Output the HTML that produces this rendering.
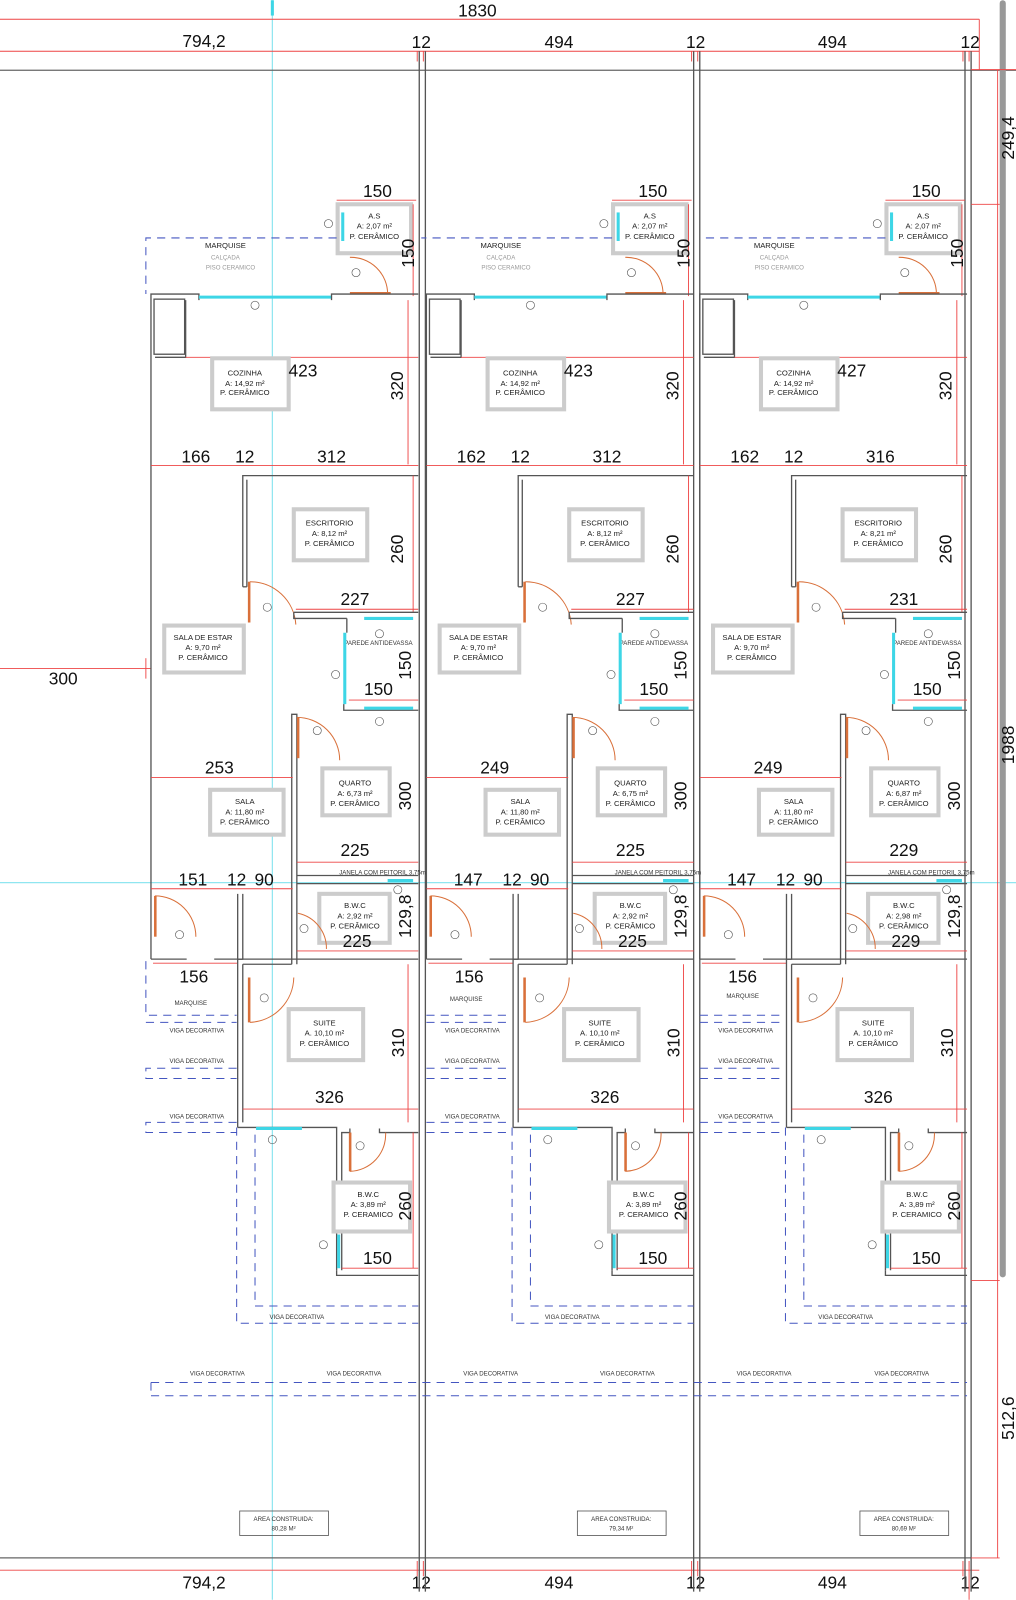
<!DOCTYPE html>
<html><head><meta charset="utf-8"><style>
html,body{margin:0;padding:0;background:#fff;}
svg{display:block;}
text{font-family:"Liberation Sans",sans-serif;}
.d{font-size:17px;fill:#111;}
.s{font-size:7.5px;fill:#222;text-anchor:middle;}
.t{font-size:6px;fill:#333;text-anchor:middle;}
.g{font-size:6px;fill:#999;text-anchor:middle;}
.w{stroke:#555;stroke-width:1.3;fill:none;}
.r{stroke:#e44;stroke-width:0.9;fill:none;}
.b{stroke:#2d8fe0;stroke-width:0;}
.lb{stroke:#ccc;stroke-width:4;fill:#fff;}
.dash{stroke:#4456c0;stroke-width:1;stroke-dasharray:8,6;fill:none;}
.cy{stroke:#3dd6e6;stroke-width:3;}
.dr{stroke:#d9703a;stroke-width:1;fill:none;}
.dp{fill:#d9703a;}
.c{fill:none;stroke:#555;stroke-width:0.6;}
</style></head><body>
<svg width="1016" height="1600" viewBox="0 0 996 1568" xmlns="http://www.w3.org/2000/svg">
<rect width="996" height="1568" fill="#fff"/>
<!-- global guide lines -->
<line x1="267" y1="0" x2="267" y2="1568" stroke="#8fe6f0" stroke-width="1.2"/>
<line x1="267" y1="0" x2="267" y2="15" stroke="#3dd6e6" stroke-width="3"/>
<line x1="0" y1="865" x2="996" y2="865" stroke="#8fe6f0" stroke-width="1.2"/>
<!-- top dims -->
<line class="r" x1="0" y1="18.6" x2="960" y2="18.6"/>
<line class="r" x1="960" y1="18.6" x2="960" y2="68"/>
<line class="r" x1="0" y1="50" x2="960" y2="50"/>
<line class="r" x1="0" y1="1539" x2="960" y2="1539"/>
<text class="d" x="468" y="16" text-anchor="middle">1830</text>
<text class="d" x="200" y="46" text-anchor="middle">794,2</text>
<text class="d" x="413" y="47" text-anchor="middle">12</text>
<text class="d" x="548" y="47" text-anchor="middle">494</text>
<text class="d" x="682" y="47" text-anchor="middle">12</text>
<text class="d" x="816" y="47" text-anchor="middle">494</text>
<text class="d" x="951" y="47" text-anchor="middle">12</text>
<text class="d" x="200" y="1557" text-anchor="middle">794,2</text>
<text class="d" x="413" y="1557" text-anchor="middle">12</text>
<text class="d" x="548" y="1557" text-anchor="middle">494</text>
<text class="d" x="682" y="1557" text-anchor="middle">12</text>
<text class="d" x="816" y="1557" text-anchor="middle">494</text>
<text class="d" x="951" y="1557" text-anchor="middle">12</text>
<!-- outer lines -->
<line x1="0" y1="68.6" x2="996" y2="68.6" stroke="#666" stroke-width="1.2"/>
<line x1="0" y1="1527" x2="952" y2="1527" stroke="#666" stroke-width="1.2"/>
<g stroke="#555" stroke-width="1.3">
<line x1="411" y1="50" x2="411" y2="1560"/><line x1="417" y1="50" x2="417" y2="1560"/>
<line x1="680" y1="50" x2="680" y2="1560"/><line x1="686" y1="50" x2="686" y2="1560"/>
<line x1="946" y1="50" x2="946" y2="1560"/><line x1="952" y1="50" x2="952" y2="1560"/>
</g>
<g class="r">
<line x1="409" y1="50" x2="409" y2="60"/><line x1="415" y1="50" x2="415" y2="60"/>
<line x1="678" y1="50" x2="678" y2="60"/><line x1="684" y1="50" x2="684" y2="60"/>
<line x1="944" y1="50" x2="944" y2="60"/><line x1="950" y1="50" x2="950" y2="60"/>
<line x1="409" y1="1530" x2="409" y2="1545"/><line x1="415" y1="1530" x2="415" y2="1545"/>
<line x1="678" y1="1530" x2="678" y2="1545"/><line x1="684" y1="1530" x2="684" y2="1545"/>
<line x1="944" y1="1530" x2="944" y2="1545"/><line x1="950" y1="1530" x2="950" y2="1568"/>
</g>
<!-- right dims -->
<rect x="980" y="0" width="6" height="1252" rx="3" fill="#999"/>
<line class="r" x1="978" y1="68" x2="978" y2="1527"/>
<line class="r" x1="952" y1="68" x2="996" y2="68"/>
<line class="r" x1="952" y1="200" x2="980" y2="200"/>
<line class="r" x1="952" y1="1255" x2="980" y2="1255"/>
<line class="r" x1="952" y1="1527" x2="980" y2="1527"/>
<text class="d" transform="translate(994,135) rotate(-90)" text-anchor="middle">249,4</text>
<text class="d" transform="translate(994,730) rotate(-90)" text-anchor="middle">1988</text>
<text class="d" transform="translate(994,1390) rotate(-90)" text-anchor="middle">512,6</text>
<!-- left dim -->
<line class="r" x1="0" y1="655" x2="148" y2="655"/>
<line class="r" x1="143" y1="645" x2="143" y2="665"/>
<text class="d" x="62" y="671" text-anchor="middle">300</text>
<!-- bottom long viga -->
<line class="dash" x1="148" y1="1355" x2="948" y2="1355"/>
<line class="dash" x1="148" y1="1368" x2="948" y2="1368"/>
<line class="dash" x1="148" y1="1355" x2="148" y2="1368"/>
<text class="t" x="213" y="1348">VIGA DECORATIVA</text>
<text class="t" x="347" y="1348">VIGA DECORATIVA</text>
<text class="t" x="481" y="1348">VIGA DECORATIVA</text>
<text class="t" x="615" y="1348">VIGA DECORATIVA</text>
<text class="t" x="749" y="1348">VIGA DECORATIVA</text>
<text class="t" x="884" y="1348">VIGA DECORATIVA</text>

<!-- ===== UNIT 1 ===== -->
<g transform="translate(0,0)">
<line class="r" x1="330" y1="196" x2="408" y2="196"/><text class="d" x="370" y="193" text-anchor="middle">150</text>
<rect class="lb" x="331" y="200" width="72" height="48"/>
<line class="cy" x1="336" y1="208" x2="336" y2="236"/>
<text class="s" x="367" y="214">A.S</text><text class="s" x="367" y="224">A: 2,07 m²</text><text class="s" x="367" y="234">P. CERÂMICO</text>
<circle class="c" cx="322" cy="219" r="4"/>
<line class="r" x1="405" y1="200" x2="405" y2="290"/>
<text class="d" transform="translate(406,248) rotate(-90)" text-anchor="middle">150</text>
<polyline class="dash" points="330,233 143,233 143,288"/>
<text class="s" x="221" y="243">MARQUISE</text><text class="g" x="221" y="254">CALÇADA</text><text class="g" x="226" y="264">PISO CERAMICO</text>
<path class="dr" d="M343,288 L383,288 M343,252 A36,36 0 0 1 380,288"/>
<rect class="dp" x="343" y="286" width="40" height="2.5"/>
<circle class="c" cx="349" cy="267" r="4"/>
<polyline class="w" points="148,940 148,288 195,288 195,294"/>
<line class="cy" x1="195" y1="291" x2="325" y2="291"/>
<polyline class="w" points="325,294 325,288 410,288"/>
<circle class="c" cx="250" cy="299" r="4"/>
<rect class="w" x="151" y="293" width="30" height="54"/>
<polyline class="w" points="152,350 182,350 182,294"/>
<line class="r" x1="182" y1="350" x2="410" y2="350"/>
<line class="r" x1="400" y1="294" x2="400" y2="455"/>
<rect class="lb" x="208" y="351" width="75" height="50"/>
<text class="s" x="240" y="368">COZINHA</text><text class="s" x="240" y="378">A: 14,92 m²</text><text class="s" x="240" y="387">P. CERÂMICO</text>
<text class="d" x="297" y="369" text-anchor="middle">423</text>
<text class="d" transform="translate(395,378) rotate(-90)" text-anchor="middle">320</text>
<line class="r" x1="148" y1="456" x2="410" y2="456"/>
<text class="d" x="192" y="453" text-anchor="middle">166</text><text class="d" x="240" y="453" text-anchor="middle">12</text><text class="d" x="325" y="453" text-anchor="middle">312</text>
<polyline class="w" points="238,575 238,466 410,466"/>
<line class="w" x1="242" y1="470" x2="242" y2="575"/>
<line class="w" x1="238" y1="575" x2="242" y2="575"/>
<line class="r" x1="405" y1="466" x2="405" y2="600"/>
<rect class="lb" x="288" y="499" width="72" height="50"/>
<text class="s" x="323" y="515">ESCRITORIO</text><text class="s" x="323" y="525">A: 8,12 m²</text><text class="s" x="323" y="535">P. CERÂMICO</text>
<text class="d" transform="translate(395,538) rotate(-90)" text-anchor="middle">260</text>
<path class="dr" d="M245,570 A45,45 0 0 1 290,612"/><rect class="dp" x="243" y="570" width="2.5" height="40"/>
<circle class="c" cx="262" cy="595" r="4"/>
<text class="d" x="348" y="593" text-anchor="middle">227</text>
<line class="r" x1="290" y1="597" x2="410" y2="597"/>
<polyline class="w" points="288,600 410,600"/><polyline class="w" points="288,600 288,606 340,606"/>
<line class="cy" x1="357" y1="606" x2="405" y2="606"/>
<polyline class="w" points="340,606 340,620"/>
<circle class="c" cx="372" cy="621" r="4"/>
<text class="t" x="371" y="632">PAREDE ANTIDEVASSA</text>
<line class="cy" x1="338" y1="620" x2="338" y2="690"/>
<circle class="c" cx="329" cy="661" r="4"/>
<text class="d" transform="translate(403,652) rotate(-90)" text-anchor="middle">150</text>
<text class="d" x="371" y="681" text-anchor="middle">150</text>
<line class="r" x1="342" y1="686" x2="410" y2="686"/>
<polyline class="w" points="337,690 337,696 410,696"/>
<line class="cy" x1="357" y1="694" x2="405" y2="694"/>
<circle class="c" cx="372" cy="707" r="4"/>
<rect class="lb" x="161" y="613" width="78" height="46"/>
<text class="s" x="199" y="627">SALA DE ESTAR</text><text class="s" x="199" y="637">A: 9,70 m²</text><text class="s" x="199" y="647">P. CERÂMICO</text>
<polyline class="w" points="286,945 286,700 291,700 291,945"/>
<path class="dr" d="M291,703 A42,42 0 0 1 333,745"/><rect class="dp" x="291" y="703" width="2.5" height="40"/>
<circle class="c" cx="311" cy="716" r="4"/>
<text class="d" x="215" y="758" text-anchor="middle">253</text>
<line class="r" x1="148" y1="762" x2="287" y2="762"/>
<rect class="lb" x="316" y="753" width="66" height="46"/>
<text class="s" x="348" y="770">QUARTO</text><text class="s" x="348" y="780">A: 6,73 m²</text><text class="s" x="348" y="790">P. CERÂMICO</text>
<text class="d" transform="translate(403,780) rotate(-90)" text-anchor="middle">300</text>
<rect class="lb" x="206" y="774" width="72" height="44"/>
<text class="s" x="240" y="788">SALA</text><text class="s" x="240" y="798">A: 11,80 m²</text><text class="s" x="240" y="808">P. CERÂMICO</text>
<text class="d" x="348" y="839" text-anchor="middle">225</text>
<line class="r" x1="291" y1="845" x2="410" y2="845"/>
<line class="w" x1="291" y1="858" x2="410" y2="858"/>
<text class="t" x="375" y="857">JANELA COM PEITORIL 3,75m</text>
<line class="cy" x1="380" y1="863" x2="405" y2="863"/>
<polyline class="w" points="291,866 410,866"/>
<circle class="c" cx="390" cy="872" r="4"/>
<text class="d" x="189" y="868" text-anchor="middle">151</text><text class="d" x="232" y="868" text-anchor="middle">12</text><text class="d" x="259" y="868" text-anchor="middle">90</text>
<line class="r" x1="148" y1="871" x2="287" y2="871"/>
<polyline class="w" points="233,876 233,940 238,940 238,876"/>
<path class="dr" d="M152,878 A40,40 0 0 1 192,918"/><rect class="dp" x="151" y="878" width="2.5" height="40"/>
<circle class="c" cx="176" cy="916" r="4"/>
<rect class="lb" x="313" y="876" width="69" height="48"/>
<text class="s" x="348" y="890">B.W.C</text><text class="s" x="348" y="900">A: 2,92 m²</text><text class="s" x="348" y="910">P. CERÂMICO</text>
<path class="dr" d="M292,895 A35,35 0 0 1 320,930"/><circle class="c" cx="298" cy="910" r="4"/>
<text class="d" transform="translate(403,898) rotate(-90)" text-anchor="middle">129,8</text>
<text class="d" x="350" y="928" text-anchor="middle">225</text>
<line class="r" x1="291" y1="932" x2="410" y2="932"/>
<polyline class="w" points="148,940 183,940"/><polyline class="w" points="210,940 238,940"/>
<line class="r" x1="150" y1="944" x2="233" y2="944"/>
<text class="d" x="190" y="963" text-anchor="middle">156</text>
<polyline class="w" points="233,1105 233,940 410,940"/><line class="w" x1="238" y1="945" x2="238" y2="1100"/>
<line class="w" x1="238" y1="945" x2="286" y2="945"/>
<path class="dr" d="M245,1002 A45,45 0 0 0 288,958"/><rect class="dp" x="243" y="958" width="2.5" height="44"/>
<circle class="c" cx="259" cy="978" r="4"/>
<line class="r" x1="400" y1="945" x2="400" y2="1100"/>
<rect class="lb" x="283" y="989" width="73" height="50"/>
<text class="s" x="318" y="1005">SUITE</text><text class="s" x="318" y="1015">A. 10,10 m²</text><text class="s" x="318" y="1025">P. CERÂMICO</text>
<text class="d" transform="translate(396,1022) rotate(-90)" text-anchor="middle">310</text>
<text class="d" x="323" y="1081" text-anchor="middle">326</text>
<line class="r" x1="238" y1="1087" x2="410" y2="1087"/>
<polyline class="w" points="233,1105 330,1105 330,1245"/>
<line class="cy" x1="251" y1="1106" x2="296" y2="1106"/>
<circle class="c" cx="267" cy="1117" r="4"/>
<polyline class="w" points="335,1245 335,1110 343,1110 343,1106"/>
<polyline class="w" points="372,1106 372,1110 410,1110"/>
<path class="dr" d="M343,1148 A36,36 0 0 0 378,1110"/><rect class="dp" x="342" y="1110" width="2.5" height="38"/>
<circle class="c" cx="353" cy="1123" r="4"/>
<rect class="lb" x="327" y="1159" width="75" height="48"/>
<text class="s" x="361" y="1173">B.W.C</text><text class="s" x="361" y="1183">A: 3,89 m²</text><text class="s" x="361" y="1193">P. CERAMICO</text>
<text class="d" transform="translate(403,1182) rotate(-90)" text-anchor="middle">260</text>
<line class="cy" x1="332" y1="1210" x2="332" y2="1243"/>
<circle class="c" cx="317" cy="1220" r="4"/>
<text class="d" x="370" y="1239" text-anchor="middle">150</text>
<line class="r" x1="335" y1="1243" x2="410" y2="1243"/>
<line class="r" x1="405" y1="1110" x2="405" y2="1243"/>
<polyline class="w" points="330,1245 330,1250 410,1250"/>
<polyline class="dash" points="232,1105 232,1297 410,1297"/>
<polyline class="dash" points="250,1112 250,1280 410,1280"/>
<text class="t" x="291" y="1293">VIGA DECORATIVA</text>
<polyline class="dash" points="143,942 143,995 232,995"/>
<text class="t" x="187" y="985">MARQUISE</text>
<line class="dash" x1="143" y1="1002" x2="232" y2="1002"/>
<text class="t" x="193" y="1012">VIGA DECORATIVA</text>
<text class="t" x="193" y="1042">VIGA DECORATIVA</text>
<polyline class="dash" points="232,1047 143,1047 143,1057 232,1057"/>
<text class="t" x="193" y="1096">VIGA DECORATIVA</text>
<polyline class="dash" points="232,1100 143,1100 143,1110 232,1110"/>
<rect x="235" y="1481" width="87" height="24" fill="none" stroke="#555" stroke-width="0.8"/>
<text class="t" x="278" y="1491">AREA CONSTRUIDA:</text><text class="t" x="278" y="1500">80,28 M²</text>
</g>

<!-- ===== UNIT 2 ===== -->
<g transform="translate(270,0)">
<line class="r" x1="330" y1="196" x2="408" y2="196"/><text class="d" x="370" y="193" text-anchor="middle">150</text>
<rect class="lb" x="331" y="200" width="72" height="48"/>
<line class="cy" x1="336" y1="208" x2="336" y2="236"/>
<text class="s" x="367" y="214">A.S</text><text class="s" x="367" y="224">A: 2,07 m²</text><text class="s" x="367" y="234">P. CERÂMICO</text>
<circle class="c" cx="322" cy="219" r="4"/>
<line class="r" x1="405" y1="200" x2="405" y2="290"/>
<text class="d" transform="translate(406,248) rotate(-90)" text-anchor="middle">150</text>
<polyline class="dash" points="330,233 143,233"/>
<text class="s" x="221" y="243">MARQUISE</text><text class="g" x="221" y="254">CALÇADA</text><text class="g" x="226" y="264">PISO CERAMICO</text>
<path class="dr" d="M343,288 L383,288 M343,252 A36,36 0 0 1 380,288"/>
<rect class="dp" x="343" y="286" width="40" height="2.5"/>
<circle class="c" cx="349" cy="267" r="4"/>
<polyline class="w" points="148,940 148,288 195,288 195,294"/>
<line class="cy" x1="195" y1="291" x2="325" y2="291"/>
<polyline class="w" points="325,294 325,288 410,288"/>
<circle class="c" cx="250" cy="299" r="4"/>
<rect class="w" x="151" y="293" width="30" height="54"/>
<polyline class="w" points="152,350 182,350 182,294"/>
<line class="r" x1="182" y1="350" x2="410" y2="350"/>
<line class="r" x1="400" y1="294" x2="400" y2="455"/>
<rect class="lb" x="208" y="351" width="75" height="50"/>
<text class="s" x="240" y="368">COZINHA</text><text class="s" x="240" y="378">A: 14,92 m²</text><text class="s" x="240" y="387">P. CERÂMICO</text>
<text class="d" x="297" y="369" text-anchor="middle">423</text>
<text class="d" transform="translate(395,378) rotate(-90)" text-anchor="middle">320</text>
<line class="r" x1="148" y1="456" x2="410" y2="456"/>
<text class="d" x="192" y="453" text-anchor="middle">162</text><text class="d" x="240" y="453" text-anchor="middle">12</text><text class="d" x="325" y="453" text-anchor="middle">312</text>
<polyline class="w" points="238,575 238,466 410,466"/>
<line class="w" x1="242" y1="470" x2="242" y2="575"/>
<line class="w" x1="238" y1="575" x2="242" y2="575"/>
<line class="r" x1="405" y1="466" x2="405" y2="600"/>
<rect class="lb" x="288" y="499" width="72" height="50"/>
<text class="s" x="323" y="515">ESCRITORIO</text><text class="s" x="323" y="525">A: 8,12 m²</text><text class="s" x="323" y="535">P. CERÂMICO</text>
<text class="d" transform="translate(395,538) rotate(-90)" text-anchor="middle">260</text>
<path class="dr" d="M245,570 A45,45 0 0 1 290,612"/><rect class="dp" x="243" y="570" width="2.5" height="40"/>
<circle class="c" cx="262" cy="595" r="4"/>
<text class="d" x="348" y="593" text-anchor="middle">227</text>
<line class="r" x1="290" y1="597" x2="410" y2="597"/>
<polyline class="w" points="288,600 410,600"/><polyline class="w" points="288,600 288,606 340,606"/>
<line class="cy" x1="357" y1="606" x2="405" y2="606"/>
<polyline class="w" points="340,606 340,620"/>
<circle class="c" cx="372" cy="621" r="4"/>
<text class="t" x="371" y="632">PAREDE ANTIDEVASSA</text>
<line class="cy" x1="338" y1="620" x2="338" y2="690"/>
<circle class="c" cx="329" cy="661" r="4"/>
<text class="d" transform="translate(403,652) rotate(-90)" text-anchor="middle">150</text>
<text class="d" x="371" y="681" text-anchor="middle">150</text>
<line class="r" x1="342" y1="686" x2="410" y2="686"/>
<polyline class="w" points="337,690 337,696 410,696"/>
<line class="cy" x1="357" y1="694" x2="405" y2="694"/>
<circle class="c" cx="372" cy="707" r="4"/>
<rect class="lb" x="161" y="613" width="78" height="46"/>
<text class="s" x="199" y="627">SALA DE ESTAR</text><text class="s" x="199" y="637">A: 9,70 m²</text><text class="s" x="199" y="647">P. CERÂMICO</text>
<polyline class="w" points="286,945 286,700 291,700 291,945"/>
<path class="dr" d="M291,703 A42,42 0 0 1 333,745"/><rect class="dp" x="291" y="703" width="2.5" height="40"/>
<circle class="c" cx="311" cy="716" r="4"/>
<text class="d" x="215" y="758" text-anchor="middle">249</text>
<line class="r" x1="148" y1="762" x2="287" y2="762"/>
<rect class="lb" x="316" y="753" width="66" height="46"/>
<text class="s" x="348" y="770">QUARTO</text><text class="s" x="348" y="780">A: 6,75 m²</text><text class="s" x="348" y="790">P. CERÂMICO</text>
<text class="d" transform="translate(403,780) rotate(-90)" text-anchor="middle">300</text>
<rect class="lb" x="206" y="774" width="72" height="44"/>
<text class="s" x="240" y="788">SALA</text><text class="s" x="240" y="798">A: 11,80 m²</text><text class="s" x="240" y="808">P. CERÂMICO</text>
<text class="d" x="348" y="839" text-anchor="middle">225</text>
<line class="r" x1="291" y1="845" x2="410" y2="845"/>
<line class="w" x1="291" y1="858" x2="410" y2="858"/>
<text class="t" x="375" y="857">JANELA COM PEITORIL 3,75m</text>
<line class="cy" x1="380" y1="863" x2="405" y2="863"/>
<polyline class="w" points="291,866 410,866"/>
<circle class="c" cx="390" cy="872" r="4"/>
<text class="d" x="189" y="868" text-anchor="middle">147</text><text class="d" x="232" y="868" text-anchor="middle">12</text><text class="d" x="259" y="868" text-anchor="middle">90</text>
<line class="r" x1="148" y1="871" x2="287" y2="871"/>
<polyline class="w" points="233,876 233,940 238,940 238,876"/>
<path class="dr" d="M152,878 A40,40 0 0 1 192,918"/><rect class="dp" x="151" y="878" width="2.5" height="40"/>
<circle class="c" cx="176" cy="916" r="4"/>
<rect class="lb" x="313" y="876" width="69" height="48"/>
<text class="s" x="348" y="890">B.W.C</text><text class="s" x="348" y="900">A: 2,92 m²</text><text class="s" x="348" y="910">P. CERÂMICO</text>
<path class="dr" d="M292,895 A35,35 0 0 1 320,930"/><circle class="c" cx="298" cy="910" r="4"/>
<text class="d" transform="translate(403,898) rotate(-90)" text-anchor="middle">129,8</text>
<text class="d" x="350" y="928" text-anchor="middle">225</text>
<line class="r" x1="291" y1="932" x2="410" y2="932"/>
<polyline class="w" points="148,940 183,940"/><polyline class="w" points="210,940 238,940"/>
<line class="r" x1="150" y1="944" x2="233" y2="944"/>
<text class="d" x="190" y="963" text-anchor="middle">156</text>
<polyline class="w" points="233,1105 233,940 410,940"/><line class="w" x1="238" y1="945" x2="238" y2="1100"/>
<line class="w" x1="238" y1="945" x2="286" y2="945"/>
<path class="dr" d="M245,1002 A45,45 0 0 0 288,958"/><rect class="dp" x="243" y="958" width="2.5" height="44"/>
<circle class="c" cx="259" cy="978" r="4"/>
<line class="r" x1="400" y1="945" x2="400" y2="1100"/>
<rect class="lb" x="283" y="989" width="73" height="50"/>
<text class="s" x="318" y="1005">SUITE</text><text class="s" x="318" y="1015">A. 10,10 m²</text><text class="s" x="318" y="1025">P. CERÂMICO</text>
<text class="d" transform="translate(396,1022) rotate(-90)" text-anchor="middle">310</text>
<text class="d" x="323" y="1081" text-anchor="middle">326</text>
<line class="r" x1="238" y1="1087" x2="410" y2="1087"/>
<polyline class="w" points="233,1105 330,1105 330,1245"/>
<line class="cy" x1="251" y1="1106" x2="296" y2="1106"/>
<circle class="c" cx="267" cy="1117" r="4"/>
<polyline class="w" points="335,1245 335,1110 343,1110 343,1106"/>
<polyline class="w" points="372,1106 372,1110 410,1110"/>
<path class="dr" d="M343,1148 A36,36 0 0 0 378,1110"/><rect class="dp" x="342" y="1110" width="2.5" height="38"/>
<circle class="c" cx="353" cy="1123" r="4"/>
<rect class="lb" x="327" y="1159" width="75" height="48"/>
<text class="s" x="361" y="1173">B.W.C</text><text class="s" x="361" y="1183">A: 3,89 m²</text><text class="s" x="361" y="1193">P. CERAMICO</text>
<text class="d" transform="translate(403,1182) rotate(-90)" text-anchor="middle">260</text>
<line class="cy" x1="332" y1="1210" x2="332" y2="1243"/>
<circle class="c" cx="317" cy="1220" r="4"/>
<text class="d" x="370" y="1239" text-anchor="middle">150</text>
<line class="r" x1="335" y1="1243" x2="410" y2="1243"/>
<line class="r" x1="405" y1="1110" x2="405" y2="1243"/>
<polyline class="w" points="330,1245 330,1250 410,1250"/>
<polyline class="dash" points="232,1105 232,1297 410,1297"/>
<polyline class="dash" points="250,1112 250,1280 410,1280"/>
<text class="t" x="291" y="1293">VIGA DECORATIVA</text>
<line class="dash" x1="148" y1="995" x2="232" y2="995"/>
<text class="t" x="187" y="981">MARQUISE</text>
<line class="dash" x1="148" y1="1002" x2="232" y2="1002"/>
<text class="t" x="193" y="1012">VIGA DECORATIVA</text>
<text class="t" x="193" y="1042">VIGA DECORATIVA</text>
<line class="dash" x1="148" y1="1047" x2="232" y2="1047"/><line class="dash" x1="148" y1="1057" x2="232" y2="1057"/>
<text class="t" x="193" y="1096">VIGA DECORATIVA</text>
<line class="dash" x1="148" y1="1100" x2="232" y2="1100"/><line class="dash" x1="148" y1="1110" x2="232" y2="1110"/>
<rect x="296" y="1481" width="87" height="24" fill="none" stroke="#555" stroke-width="0.8"/>
<text class="t" x="339" y="1491">AREA CONSTRUIDA:</text><text class="t" x="339" y="1500">79,34 M²</text>
</g>

<!-- ===== UNIT 3 ===== -->
<g transform="translate(538,0)">
<line class="r" x1="330" y1="196" x2="408" y2="196"/><text class="d" x="370" y="193" text-anchor="middle">150</text>
<rect class="lb" x="331" y="200" width="72" height="48"/>
<line class="cy" x1="336" y1="208" x2="336" y2="236"/>
<text class="s" x="367" y="214">A.S</text><text class="s" x="367" y="224">A: 2,07 m²</text><text class="s" x="367" y="234">P. CERÂMICO</text>
<circle class="c" cx="322" cy="219" r="4"/>
<line class="r" x1="405" y1="200" x2="405" y2="290"/>
<text class="d" transform="translate(406,248) rotate(-90)" text-anchor="middle">150</text>
<polyline class="dash" points="330,233 148,233"/>
<text class="s" x="221" y="243">MARQUISE</text><text class="g" x="221" y="254">CALÇADA</text><text class="g" x="226" y="264">PISO CERAMICO</text>
<path class="dr" d="M343,288 L383,288 M343,252 A36,36 0 0 1 380,288"/>
<rect class="dp" x="343" y="286" width="40" height="2.5"/>
<circle class="c" cx="349" cy="267" r="4"/>
<polyline class="w" points="148,940 148,288 195,288 195,294"/>
<line class="cy" x1="195" y1="291" x2="325" y2="291"/>
<polyline class="w" points="325,294 325,288 410,288"/>
<circle class="c" cx="250" cy="299" r="4"/>
<rect class="w" x="151" y="293" width="30" height="54"/>
<polyline class="w" points="152,350 182,350 182,294"/>
<line class="r" x1="182" y1="350" x2="410" y2="350"/>
<line class="r" x1="400" y1="294" x2="400" y2="455"/>
<rect class="lb" x="208" y="351" width="75" height="50"/>
<text class="s" x="240" y="368">COZINHA</text><text class="s" x="240" y="378">A: 14,92 m²</text><text class="s" x="240" y="387">P. CERÂMICO</text>
<text class="d" x="297" y="369" text-anchor="middle">427</text>
<text class="d" transform="translate(395,378) rotate(-90)" text-anchor="middle">320</text>
<line class="r" x1="148" y1="456" x2="410" y2="456"/>
<text class="d" x="192" y="453" text-anchor="middle">162</text><text class="d" x="240" y="453" text-anchor="middle">12</text><text class="d" x="325" y="453" text-anchor="middle">316</text>
<polyline class="w" points="238,575 238,466 410,466"/>
<line class="w" x1="242" y1="470" x2="242" y2="575"/>
<line class="w" x1="238" y1="575" x2="242" y2="575"/>
<line class="r" x1="405" y1="466" x2="405" y2="600"/>
<rect class="lb" x="288" y="499" width="72" height="50"/>
<text class="s" x="323" y="515">ESCRITORIO</text><text class="s" x="323" y="525">A: 8,21 m²</text><text class="s" x="323" y="535">P. CERÂMICO</text>
<text class="d" transform="translate(395,538) rotate(-90)" text-anchor="middle">260</text>
<path class="dr" d="M245,570 A45,45 0 0 1 290,612"/><rect class="dp" x="243" y="570" width="2.5" height="40"/>
<circle class="c" cx="262" cy="595" r="4"/>
<text class="d" x="348" y="593" text-anchor="middle">231</text>
<line class="r" x1="290" y1="597" x2="410" y2="597"/>
<polyline class="w" points="288,600 410,600"/><polyline class="w" points="288,600 288,606 340,606"/>
<line class="cy" x1="357" y1="606" x2="405" y2="606"/>
<polyline class="w" points="340,606 340,620"/>
<circle class="c" cx="372" cy="621" r="4"/>
<text class="t" x="371" y="632">PAREDE ANTIDEVASSA</text>
<line class="cy" x1="338" y1="620" x2="338" y2="690"/>
<circle class="c" cx="329" cy="661" r="4"/>
<text class="d" transform="translate(403,652) rotate(-90)" text-anchor="middle">150</text>
<text class="d" x="371" y="681" text-anchor="middle">150</text>
<line class="r" x1="342" y1="686" x2="410" y2="686"/>
<polyline class="w" points="337,690 337,696 410,696"/>
<line class="cy" x1="357" y1="694" x2="405" y2="694"/>
<circle class="c" cx="372" cy="707" r="4"/>
<rect class="lb" x="161" y="613" width="78" height="46"/>
<text class="s" x="199" y="627">SALA DE ESTAR</text><text class="s" x="199" y="637">A: 9,70 m²</text><text class="s" x="199" y="647">P. CERÂMICO</text>
<polyline class="w" points="286,945 286,700 291,700 291,945"/>
<path class="dr" d="M291,703 A42,42 0 0 1 333,745"/><rect class="dp" x="291" y="703" width="2.5" height="40"/>
<circle class="c" cx="311" cy="716" r="4"/>
<text class="d" x="215" y="758" text-anchor="middle">249</text>
<line class="r" x1="148" y1="762" x2="287" y2="762"/>
<rect class="lb" x="316" y="753" width="66" height="46"/>
<text class="s" x="348" y="770">QUARTO</text><text class="s" x="348" y="780">A: 6,87 m²</text><text class="s" x="348" y="790">P. CERÂMICO</text>
<text class="d" transform="translate(403,780) rotate(-90)" text-anchor="middle">300</text>
<rect class="lb" x="206" y="774" width="72" height="44"/>
<text class="s" x="240" y="788">SALA</text><text class="s" x="240" y="798">A: 11,80 m²</text><text class="s" x="240" y="808">P. CERÂMICO</text>
<text class="d" x="348" y="839" text-anchor="middle">229</text>
<line class="r" x1="291" y1="845" x2="410" y2="845"/>
<line class="w" x1="291" y1="858" x2="410" y2="858"/>
<text class="t" x="375" y="857">JANELA COM PEITORIL 3,75m</text>
<line class="cy" x1="380" y1="863" x2="405" y2="863"/>
<polyline class="w" points="291,866 410,866"/>
<circle class="c" cx="390" cy="872" r="4"/>
<text class="d" x="189" y="868" text-anchor="middle">147</text><text class="d" x="232" y="868" text-anchor="middle">12</text><text class="d" x="259" y="868" text-anchor="middle">90</text>
<line class="r" x1="148" y1="871" x2="287" y2="871"/>
<polyline class="w" points="233,876 233,940 238,940 238,876"/>
<path class="dr" d="M152,878 A40,40 0 0 1 192,918"/><rect class="dp" x="151" y="878" width="2.5" height="40"/>
<circle class="c" cx="176" cy="916" r="4"/>
<rect class="lb" x="313" y="876" width="69" height="48"/>
<text class="s" x="348" y="890">B.W.C</text><text class="s" x="348" y="900">A: 2,98 m²</text><text class="s" x="348" y="910">P. CERÂMICO</text>
<path class="dr" d="M292,895 A35,35 0 0 1 320,930"/><circle class="c" cx="298" cy="910" r="4"/>
<text class="d" transform="translate(403,898) rotate(-90)" text-anchor="middle">129,8</text>
<text class="d" x="350" y="928" text-anchor="middle">229</text>
<line class="r" x1="291" y1="932" x2="410" y2="932"/>
<polyline class="w" points="148,940 183,940"/><polyline class="w" points="210,940 238,940"/>
<line class="r" x1="150" y1="944" x2="233" y2="944"/>
<text class="d" x="190" y="963" text-anchor="middle">156</text>
<polyline class="w" points="233,1105 233,940 410,940"/><line class="w" x1="238" y1="945" x2="238" y2="1100"/>
<line class="w" x1="238" y1="945" x2="286" y2="945"/>
<path class="dr" d="M245,1002 A45,45 0 0 0 288,958"/><rect class="dp" x="243" y="958" width="2.5" height="44"/>
<circle class="c" cx="259" cy="978" r="4"/>
<line class="r" x1="400" y1="945" x2="400" y2="1100"/>
<rect class="lb" x="283" y="989" width="73" height="50"/>
<text class="s" x="318" y="1005">SUITE</text><text class="s" x="318" y="1015">A. 10,10 m²</text><text class="s" x="318" y="1025">P. CERÂMICO</text>
<text class="d" transform="translate(396,1022) rotate(-90)" text-anchor="middle">310</text>
<text class="d" x="323" y="1081" text-anchor="middle">326</text>
<line class="r" x1="238" y1="1087" x2="410" y2="1087"/>
<polyline class="w" points="233,1105 330,1105 330,1245"/>
<line class="cy" x1="251" y1="1106" x2="296" y2="1106"/>
<circle class="c" cx="267" cy="1117" r="4"/>
<polyline class="w" points="335,1245 335,1110 343,1110 343,1106"/>
<polyline class="w" points="372,1106 372,1110 410,1110"/>
<path class="dr" d="M343,1148 A36,36 0 0 0 378,1110"/><rect class="dp" x="342" y="1110" width="2.5" height="38"/>
<circle class="c" cx="353" cy="1123" r="4"/>
<rect class="lb" x="327" y="1159" width="75" height="48"/>
<text class="s" x="361" y="1173">B.W.C</text><text class="s" x="361" y="1183">A: 3,89 m²</text><text class="s" x="361" y="1193">P. CERAMICO</text>
<text class="d" transform="translate(403,1182) rotate(-90)" text-anchor="middle">260</text>
<line class="cy" x1="332" y1="1210" x2="332" y2="1243"/>
<circle class="c" cx="317" cy="1220" r="4"/>
<text class="d" x="370" y="1239" text-anchor="middle">150</text>
<line class="r" x1="335" y1="1243" x2="410" y2="1243"/>
<line class="r" x1="405" y1="1110" x2="405" y2="1243"/>
<polyline class="w" points="330,1245 330,1250 410,1250"/>
<polyline class="dash" points="232,1105 232,1297 410,1297"/>
<polyline class="dash" points="250,1112 250,1280 410,1280"/>
<text class="t" x="291" y="1293">VIGA DECORATIVA</text>
<line class="dash" x1="148" y1="995" x2="232" y2="995"/>
<text class="t" x="190" y="978">MARQUISE</text>
<line class="dash" x1="148" y1="1002" x2="232" y2="1002"/>
<text class="t" x="193" y="1012">VIGA DECORATIVA</text>
<text class="t" x="193" y="1042">VIGA DECORATIVA</text>
<line class="dash" x1="148" y1="1047" x2="232" y2="1047"/><line class="dash" x1="148" y1="1057" x2="232" y2="1057"/>
<text class="t" x="193" y="1096">VIGA DECORATIVA</text>
<line class="dash" x1="148" y1="1100" x2="232" y2="1100"/><line class="dash" x1="148" y1="1110" x2="232" y2="1110"/>
<rect x="305" y="1481" width="87" height="24" fill="none" stroke="#555" stroke-width="0.8"/>
<text class="t" x="348" y="1491">AREA CONSTRUIDA:</text><text class="t" x="348" y="1500">80,69 M²</text>
</g>
</svg>
</body></html>
